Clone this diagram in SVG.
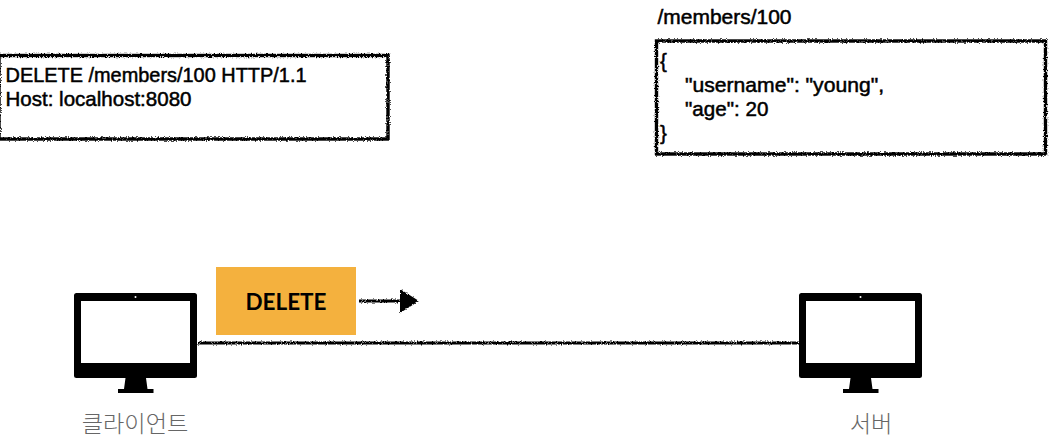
<svg xmlns="http://www.w3.org/2000/svg" width="1056" height="446" viewBox="0 0 1056 446">
<style>
.t{font-family:"Liberation Sans",Arial,sans-serif;font-size:20.6px;fill:#000;stroke:#000;stroke-width:.5px}
.k{font-family:"Noto Sans CJK KR",sans-serif;font-size:23.2px;fill:#666;font-weight:300;text-anchor:middle}
.box{fill:none;stroke:#000;stroke-width:3.4;filter:url(#rough)}
</style>
<defs>
<filter id="rough" x="-5%" y="-8%" width="110%" height="116%">
<feTurbulence type="fractalNoise" baseFrequency="0.8" numOctaves="2" seed="3"/>
<feDisplacementMap in="SourceGraphic" scale="3.6" xChannelSelector="R" yChannelSelector="G"/>
</filter>
<filter id="roughL" x="190" y="335" width="620" height="16" filterUnits="userSpaceOnUse">
<feTurbulence type="fractalNoise" baseFrequency="0.8" numOctaves="2" seed="5"/>
<feDisplacementMap in="SourceGraphic" scale="3.4" xChannelSelector="R" yChannelSelector="G"/>
</filter>
<filter id="roughA" x="350" y="282" width="76" height="38" filterUnits="userSpaceOnUse">
<feTurbulence type="fractalNoise" baseFrequency="0.8" numOctaves="2" seed="7"/>
<feDisplacementMap in="SourceGraphic" scale="3.4" xChannelSelector="R" yChannelSelector="G"/>
</filter>
<g id="monitor">
<rect x="74" y="293" width="123" height="85" rx="2.5" fill="#000"/>
<rect x="81" y="301" width="109" height="62" fill="#fff"/>
<circle cx="135.500" cy="297" r="1" fill="#fff"/>
<path d="M125.500 378H146L147.500 389H153.500V393H118V389H124Z" fill="#000"/>
</g>
</defs>
<g id="connectors">
<path d="M198 343H799" fill="none" stroke="#000" stroke-width="2.8" filter="url(#roughL)"/>
<g filter="url(#roughA)">
<path d="M359 301H402" fill="none" stroke="#000" stroke-width="2.8"/>
<path d="M400 289L419 301L400 313Z" fill="#000"/>
</g>
</g>
<g id="request-box">
<rect class="box" x="-1" y="55.500" width="389" height="83.500"/>
<text class="t" x="5.500" y="82" textLength="301" lengthAdjust="spacingAndGlyphs">DELETE /members/100 HTTP/1.1</text>
<text class="t" x="5.500" y="106" textLength="186" lengthAdjust="spacingAndGlyphs">Host: localhost:8080</text>
</g>
<g id="resource-box">
<text class="t" x="657.500" y="24" textLength="134" lengthAdjust="spacingAndGlyphs">/members/100</text>
<rect class="box" x="656.500" y="41" width="389" height="113"/>
<text class="t" x="660" y="68">{</text>
<text class="t" x="685" y="92" textLength="199" lengthAdjust="spacingAndGlyphs">"username": "young",</text>
<text class="t" x="685" y="116">"age": 20</text>
<text class="t" x="660" y="140">}</text>
</g>
<g id="delete-label">
<rect x="216" y="267" width="140" height="68" fill="#f4b13e"/>
<text x="286" y="310" text-anchor="middle" font-family="Lato,'Liberation Sans',sans-serif" font-size="22.500" font-weight="700" fill="#000">DELETE</text>
</g>
<g id="client">
<use href="#monitor"/>
<text class="k" x="135" y="432">클라이언트</text>
</g>
<g id="server">
<use href="#monitor" x="725"/>
<text class="k" x="871" y="432">서버</text>
</g>
</svg>
